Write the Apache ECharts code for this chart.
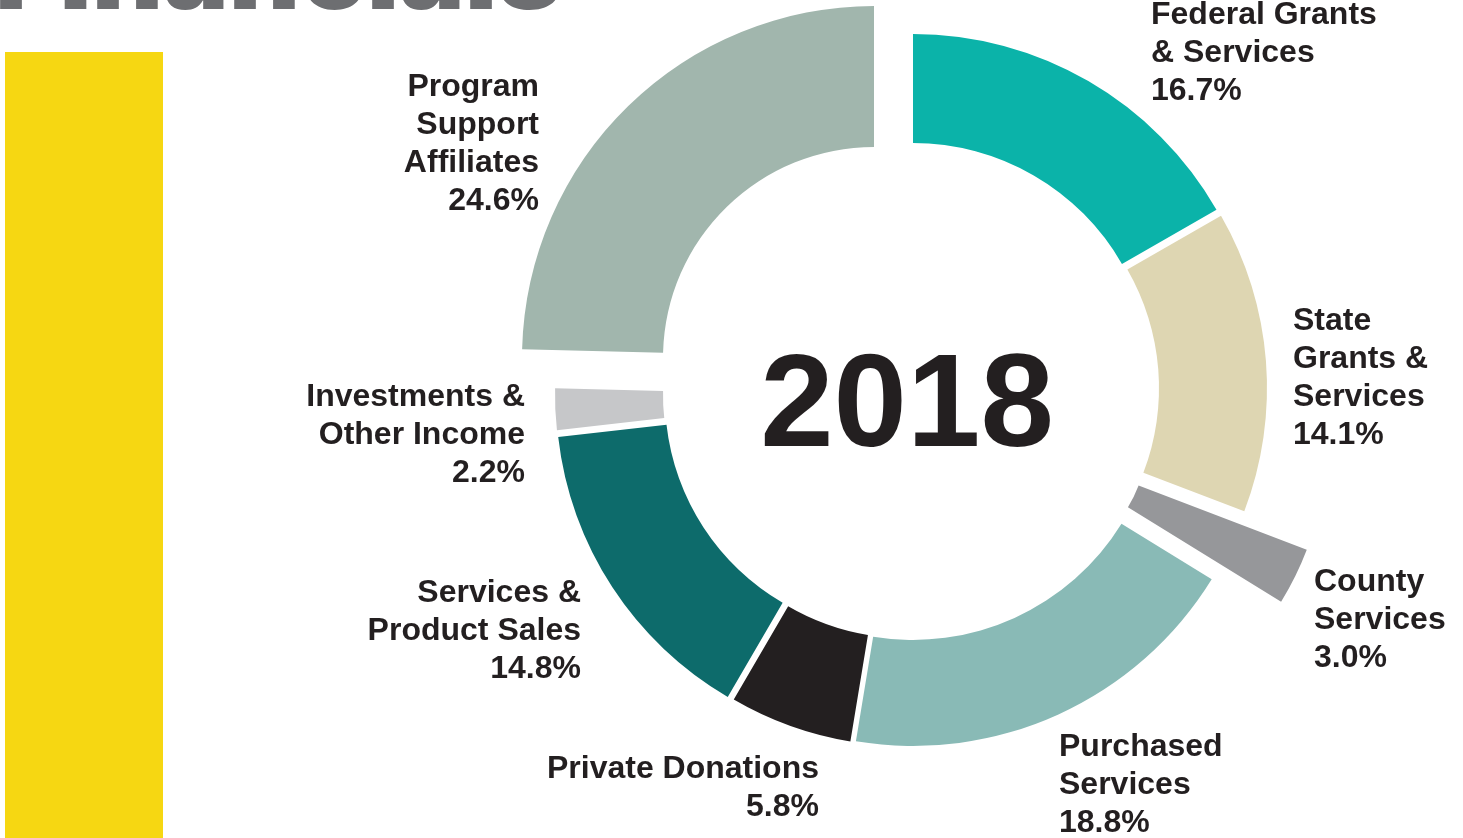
<!DOCTYPE html>
<html><head><meta charset="utf-8">
<script src="https://cdn.jsdelivr.net/npm/echarts@6/dist/echarts.min.js"></script>
<style>html,body{margin:0;padding:0;background:#fff;overflow:hidden}#main{width:1463px;height:838px;}</style>
</head><body><div id="main"></div>
<script>
// ---- data ----
const categories = ['Federal Grants & Services', 'State Grants & Services', 'County Services', 'Purchased Services', 'Private Donations', 'Services & Product Sales', 'Investments & Other Income', 'Program Support Affiliates'];
const labelTexts = ['Federal Grants\n& Services', 'State\nGrants &\nServices', 'County\nServices', 'Purchased\nServices', 'Private Donations', 'Services &\nProduct Sales', 'Investments &\nOther Income', 'Program\nSupport\nAffiliates'];
const values = [16.7, 14.1, 3.0, 18.8, 5.8, 14.8, 2.2, 24.6];
const yearLabel = '2018';
const titleText = 'Financials';

// ---- layout & style ----
const colors = ['#0BB3A9', '#DED6B2', '#96979A', '#89BAB6', '#231F20', '#0D6B6B', '#C6C7C9', '#A1B6AD'];
const sliceCenters = [[913, 384], [921, 388], [1019, 440], [913, 395], [906, 404], [902, 398], [859, 396], [874, 358]];
const sliceRadii = [[241, 350], [238, 346], [128, 308], [245, 351], [234, 342], [237, 346], [196, 304], [211, 352]];
const labelPos = [[1151, 15, 'left'], [1293, 321, 'left'], [1314, 582, 'left'], [1059, 747, 'left'], [819, 769, 'right'], [581, 593, 'right'], [525, 397, 'right'], [539, 87, 'right']];

const chart = echarts.init(document.getElementById('main'), null, {renderer: 'canvas'});

const series = values.map((v, i) => ({
  type: 'pie', silent: true, animation: false, startAngle: 90, clockwise: true,
  center: sliceCenters[i], radius: sliceRadii[i],
  label: {show: false}, labelLine: {show: false}, emphasis: {disabled: true},
  data: values.map((w, j) => ({
    name: categories[j], value: w,
    itemStyle: {color: j === i ? colors[i] : 'rgba(0,0,0,0)', borderWidth: 0}
  }))
}));

const LH = 38;
const graphics = [
  {type: 'rect', shape: {x: 5, y: 52, width: 158, height: 800}, style: {fill: '#F6D712'}, silent: true},
  {type: 'text', x: -5, y: -24, style: {text: titleText, fontFamily: 'Inter', fontWeight: 900, fontSize: 110, fill: '#6D6E71', verticalAlign: 'middle', align: 'left'}, silent: true},
  {type: 'text', x: 907, y: 410, z: 10, style: {text: yearLabel, fontFamily: 'Liberation Sans', fontWeight: 'bold', fontSize: 132, fill: '#231F20', align: 'center', verticalAlign: 'middle'}, silent: true}
];
values.forEach((v, i) => {
  const p = labelPos[i];
  graphics.push({
    type: 'text', x: p[0], y: p[1] - LH / 2, z: 10, silent: true,
    style: {
      text: labelTexts[i] + '\n' + v.toFixed(1) + '%',
      fontFamily: 'Liberation Sans', fontWeight: 'bold', fontSize: 32, lineHeight: LH,
      fill: '#231F20', align: p[2], verticalAlign: 'top'
    }
  });
});

chart.setOption({
  backgroundColor: '#ffffff',
  animation: false,
  series: series,
  graphic: graphics
});
</script>
</body></html>
